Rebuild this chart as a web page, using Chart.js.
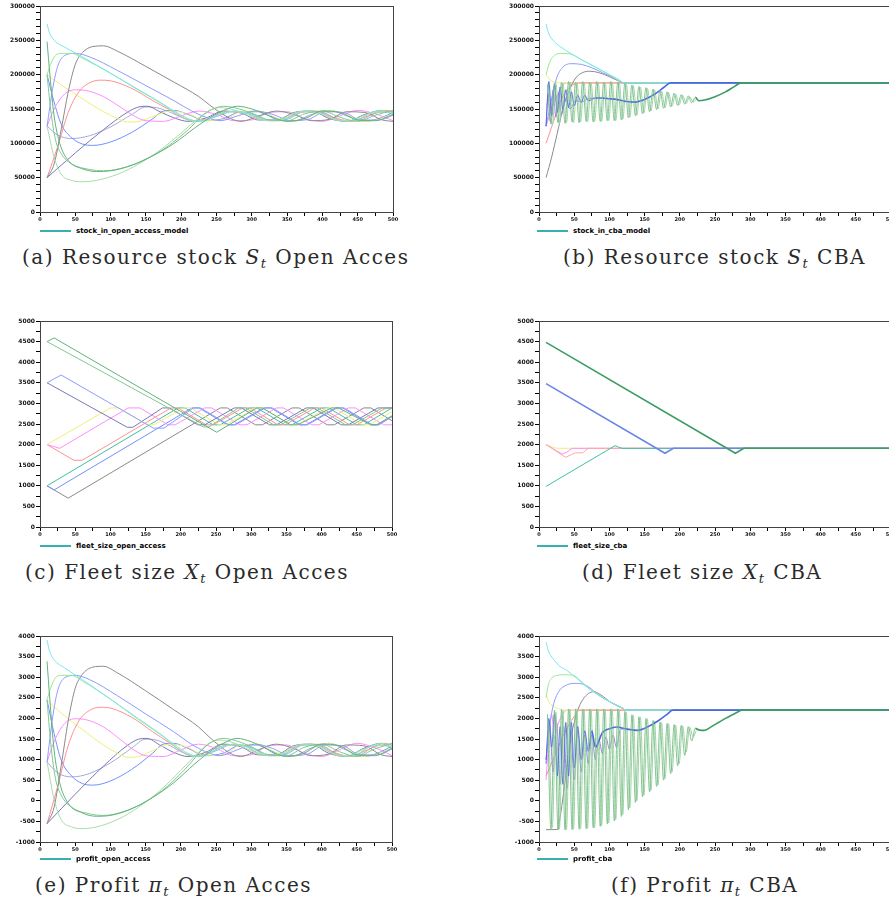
<!DOCTYPE html>
<html>
<head>
<title>Open access vs CBA simulations</title>
<script src="https://cdn.jsdelivr.net/npm/chart.js@4.4.0/dist/chart.umd.min.js"></script>
<style>
body { margin: 0; background: #fff; width: 889px; height: 901px; overflow: hidden; position: relative; }
canvas { position: absolute; }
.cap { position: absolute; font-family: "DejaVu Serif", serif; font-size: 20px; line-height: 22px; white-space: nowrap; color: #2a2a2a; letter-spacing: 1.5px; }
.cap sub { font-size: 13px; vertical-align: -4px; line-height: 0; }
.leg { position: absolute; height: 8px; font: bold 7px "DejaVu Sans", sans-serif; line-height: 8px; white-space: nowrap; color: #000; }
.leg .ln { display: inline-block; width: 31px; border-top: 2px solid #38b0b0; vertical-align: middle; margin-right: 5px; }
</style>
</head>
<body>
<canvas id="cA" width="400" height="226" style="left:0;top:0"></canvas>
<canvas id="cB" width="400" height="226" style="left:499px;top:0"></canvas>
<canvas id="cC" width="399" height="226" style="left:0;top:315px"></canvas>
<canvas id="cD" width="400" height="226" style="left:499px;top:315px"></canvas>
<canvas id="cE" width="399" height="226" style="left:0;top:630px"></canvas>
<canvas id="cF" width="400" height="226" style="left:499px;top:630px"></canvas>

<div class="leg" style="left:40px;top:227px"><span class="ln"></span>stock_in_open_access_model</div>
<div class="leg" style="left:537px;top:227px"><span class="ln"></span>stock_in_cba_model</div>
<div class="leg" style="left:40px;top:542px"><span class="ln"></span>fleet_size_open_access</div>
<div class="leg" style="left:537px;top:542px"><span class="ln"></span>fleet_size_cba</div>
<div class="leg" style="left:40px;top:855px"><span class="ln"></span>profit_open_access</div>
<div class="leg" style="left:537px;top:855px"><span class="ln"></span>profit_cba</div>

<div class="cap" style="left:22px;top:246px">(a) Resource stock <i>S<sub>t</sub></i> Open Acces</div>
<div class="cap" style="left:563px;top:246px">(b) Resource stock <i>S<sub>t</sub></i> CBA</div>
<div class="cap" style="left:25px;top:561px">(c) Fleet size <i>X<sub>t</sub></i> Open Acces</div>
<div class="cap" style="left:582px;top:561px">(d) Fleet size <i>X<sub>t</sub></i> CBA</div>
<div class="cap" style="left:35px;top:874px">(e) Profit <i>&pi;<sub>t</sub></i> Open Acces</div>
<div class="cap" style="left:611px;top:874px">(f) Profit <i>&pi;<sub>t</sub></i> CBA</div>

<script>
// tick labels
var xTickLabels = ['0', '50', '100', '150', '200', '250', '300', '350', '400', '450', '500'];
var stockTickLabels = ['0', '50000', '100000', '150000', '200000', '250000', '300000'];
var fleetTickLabels = ['0', '500', '1000', '1500', '2000', '2500', '3000', '3500', '4000', '4500', '5000'];
var profitTickLabels = ['-1000', '-500', '0', '500', '1000', '1500', '2000', '2500', '3000', '3500', '4000'];

var C = {
    cyan: '#78e6f0', lgreen: '#98e898', lblue: '#8c9cff', gray: '#8a8a8a', red: '#ff9090',
    magenta: '#ff8cff', yellow: '#eeee78', slate: '#7878b4', blue: '#7090ff', lav: '#a8a8d8',
    green1: '#80c890', green2: '#a8dca8', sea: '#62b27e', teal: '#3cc0a8', dblue: '#4a6ae0',
    purple: '#a080e0', lzig: '#9ed4a4', zig: '#78bc88', dgreen: '#3c9c64'
};

// (a) resource stock, open access -- values in thousands, [t, S]
var stockOA = [
    [[10,248],[14,200],[20,140],[28,100],[40,75],[60,63],[80,59],[100,60],[130,68],[160,82],[190,100],[220,123],[245,140],[265,150],[280,154],[300,150],[325,140],[350,132],[375,136],[400,147],[425,145],[450,134],[475,133],[500,142]],
    [[10,200],[15,150],[22,105],[30,85],[45,70],[70,62],[90,60],[120,65],[150,77],[180,95],[210,120],[230,140],[245,150],[260,154],[275,152],[300,144],[325,134],[350,133],[375,143],[400,147],[425,138],[450,132],[475,141],[500,148]],
    [[10,125],[20,80],[30,55],[45,46],[60,44],[80,46],[110,55],[140,70],[170,90],[200,115],[225,137],[240,148],[255,152],[270,150],[295,141],[320,133],[345,136],[370,146],[395,145],[420,134],[445,133],[470,144],[500,146]],
    [[10,274],[13,262],[20,250],[35,240],[60,226],[100,202],[140,178],[170,160],[190,147],[210,136],[225,132],[250,140],[275,147],[300,142],[325,133],[350,136],[375,147],[400,143],[425,133],[450,135],[475,146],[500,144]],
    [[10,200],[15,215],[22,228],[30,231],[45,231],[60,224],[100,202],[140,177],[175,156],[195,142],[215,133],[235,134],[260,145],[285,146],[310,136],[335,133],[360,144],[385,147],[410,138],[435,132],[460,141],[485,148],[500,143]],
    [[10,125],[18,180],[25,212],[35,228],[50,231],[70,226],[110,206],[150,184],[190,162],[215,147],[235,138],[255,133],[280,140],[305,147],[330,142],[355,133],[380,135],[405,146],[430,145],[455,134],[480,134],[500,141]],
    [[10,50],[20,70],[30,120],[40,175],[50,215],[60,232],[75,241],[90,242],[110,234],[150,212],[190,189],[225,168],[240,156],[255,145],[270,136],[285,132],[310,140],[335,147],[360,142],[385,133],[410,135],[435,146],[460,145],[485,134],[500,132]],
    [[10,50],[25,95],[40,145],[55,175],[70,188],[85,192],[100,191],[130,180],[160,162],[185,148],[200,139],[215,133],[240,136],[265,146],[290,145],[315,134],[340,133],[365,144],[390,147],[415,138],[440,132],[465,140],[490,148],[500,146]],
    [[10,125],[20,150],[35,172],[50,178],[65,177],[90,168],[115,152],[135,139],[150,133],[175,132],[200,140],[225,147],[250,142],[275,133],[300,134],[325,145],[350,146],[375,136],[400,132],[425,140],[450,148],[475,143],[500,133]],
    [[10,200],[30,185],[60,165],[90,146],[110,136],[125,131],[140,132],[160,139],[185,147],[210,143],[235,133],[260,134],[285,146],[310,147],[335,137],[360,132],[385,141],[410,148],[435,141],[460,132],[485,137],[500,143]],
    [[10,50],[50,86],[90,120],[125,146],[140,153],[152,154],[170,146],[190,137],[210,132],[235,137],[260,147],[285,144],[310,134],[335,134],[360,145],[385,147],[410,136],[435,132],[460,142],[485,148],[500,142]],
    [[10,200],[20,160],[30,128],[45,108],[60,99],[75,97],[100,102],[130,116],[160,136],[175,147],[190,148],[210,142],[235,133],[260,136],[285,146],[310,146],[335,135],[360,133],[385,142],[410,148],[435,140],[460,132],[485,138],[500,145]],
    [[10,125],[25,112],[45,107],[70,111],[100,124],[130,142],[150,153],[165,152],[185,145],[205,136],[225,132],[250,139],[275,147],[300,143],[325,133],[350,135],[375,146],[400,145],[425,134],[450,133],[475,144],[500,147]]
];
var stockOAColors = [C.sea, C.green1, C.green2, C.cyan, C.lgreen, C.lblue, C.gray, C.red, C.magenta, C.yellow, C.slate, C.blue, C.lav];

// (b) resource stock, CBA -- thousands
var stockCBA = [
    [[12,186],[17,128],[22,188],[27,130],[32,189],[37,129],[42,190],[47,131],[52,189],[57,130],[62,190],[67,132],[72,189],[77,131],[82,190],[87,132],[92,189],[97,133],[102,190],[107,133],[112,189],[117,134],[122,187],[127,137],[132,185],[137,140],[142,183],[147,143],[152,181],[157,146],[162,179],[167,149],[172,177],[177,151],[182,175],[187,153],[192,173],[197,155],[202,171],[207,157],[212,169],[217,159],[222,167],[227,162],[235,163],[250,168],[265,175],[278,183],[287,188],[500,188]],
    [[10,125],[14,190],[18,140],[22,185],[26,145],[30,182],[34,150],[38,178],[42,152],[46,175],[50,155],[55,170],[60,160],[65,170],[70,162],[80,166],[90,166],[100,165],[110,164],[125,161],[135,160],[150,164],[165,172],[178,182],[187,188],[500,188]],
    [[14,184],[19,127],[24,187],[29,129],[34,188],[39,130],[44,189],[49,130],[54,188],[59,131],[64,189],[69,131],[74,188],[79,132],[84,189],[89,132],[94,188],[99,133],[104,189],[109,133],[114,188],[119,135],[124,186],[129,138],[134,184],[139,141],[144,182],[149,144],[154,180],[159,147],[164,178],[169,150],[174,176],[179,152],[184,174],[189,154],[194,172],[199,156],[204,170],[209,158],[214,168],[219,160],[224,165]],
    [[10,125],[13,172],[16,132],[20,178],[24,138],[28,174],[32,142],[38,166],[44,150],[52,162],[60,160],[70,165],[80,166]],
    [[10,274],[13,262],[20,250],[30,241],[45,231],[60,222],[80,211],[100,200],[115,192],[120,188],[500,188]],
    [[10,200],[15,218],[22,228],[32,231],[45,230],[60,222],[80,211],[100,200],[118,189],[122,188],[500,188]],
    [[10,125],[18,165],[25,195],[33,210],[45,216],[60,215],[75,210],[90,203],[105,196],[120,188],[500,188]],
    [[10,50],[18,80],[26,115],[34,150],[42,175],[52,195],[62,203],[72,205],[85,203],[100,197],[115,190],[120,188],[500,188]],
    [[10,100],[20,130],[30,160],[40,178],[50,186],[60,188],[500,188]],
    [[10,200],[16,192],[24,189],[30,188],[500,188]],
    [[10,125],[18,150],[26,170],[34,185],[40,188],[500,188]]
];
var stockCBAColors = [C.zig, C.dblue, C.lzig, C.purple, C.cyan, C.lgreen, C.lblue, C.gray, C.red, C.yellow, C.magenta];

// (c) fleet size, open access
var fleetOA = [
    [[10,4500],[20,4590],[251,2300],[308,2890],[316,2890],[356,2480],[366,2480],[414,2890],[424,2890],[470,2480],[478,2480],[500,2700]],
    [[10,4500],[232,2430],[240,2430],[282,2890],[292,2890],[332,2480],[342,2480],[384,2890],[394,2890],[434,2480],[444,2480],[486,2890],[500,2890]],
    [[10,3500],[30,3690],[161,2400],[176,2400],[218,2890],[228,2890],[268,2480],[278,2480],[320,2890],[330,2890],[370,2480],[380,2480],[422,2890],[432,2890],[472,2480],[482,2480],[500,2680]],
    [[10,3500],[124,2420],[132,2420],[174,2890],[184,2890],[224,2480],[234,2480],[276,2890],[286,2890],[326,2480],[336,2480],[378,2890],[388,2890],[428,2480],[438,2480],[480,2890],[500,2890]],
    [[10,2000],[100,2890],[112,2890],[152,2480],[162,2480],[204,2890],[214,2890],[254,2480],[264,2480],[306,2890],[316,2890],[356,2480],[366,2480],[408,2890],[418,2890],[458,2480],[468,2480],[500,2800]],
    [[10,2000],[28,1910],[125,2890],[142,2890],[182,2480],[192,2480],[234,2890],[244,2890],[284,2480],[294,2480],[336,2890],[346,2890],[386,2480],[396,2480],[438,2890],[448,2890],[488,2480],[500,2480]],
    [[10,2000],[48,1620],[60,1620],[186,2890],[196,2890],[236,2480],[246,2480],[288,2890],[298,2890],[338,2480],[348,2480],[390,2890],[400,2890],[440,2480],[450,2480],[492,2890],[500,2890]],
    [[10,1000],[196,2890],[206,2890],[246,2480],[256,2480],[298,2890],[308,2890],[348,2480],[358,2480],[400,2890],[410,2890],[450,2480],[460,2480],[500,2890]],
    [[10,1000],[20,900],[216,2890],[226,2890],[266,2480],[276,2480],[318,2890],[328,2890],[368,2480],[378,2480],[420,2890],[430,2890],[470,2480],[480,2480],[500,2680]],
    [[10,1000],[40,700],[256,2890],[266,2890],[306,2480],[316,2480],[358,2890],[368,2890],[408,2480],[418,2480],[460,2890],[470,2890],[500,2580]]
];
var fleetOAColors = [C.sea, C.green1, C.lblue, C.slate, C.yellow, C.magenta, C.red, C.teal, C.blue, C.gray];

// (d) fleet size, CBA
var fleetCBA = [
    [[10,4480],[279,1790],[291,1910],[500,1910]],
    [[10,3480],[179,1790],[191,1910],[500,1910]],
    [[10,985],[108,1975],[113,1940],[118,1910],[500,1910]],
    [[10,2000],[38,1690],[46,1760],[52,1800],[62,1800],[70,1910],[500,1910]],
    [[10,2000],[25,1850],[33,1770],[40,1820],[47,1910],[500,1910]],
    [[10,2000],[20,1930],[26,1910],[500,1910]]
];
var fleetCBAColors = [C.dgreen, '#6a86e8', C.teal, '#ffa8a0', C.magenta, C.yellow];

// (e) profit, open access
var profitOA = [
    [[10,3385],[14,2450],[20,1235],[28,440],[40,-60],[60,-295],[80,-375],[100,-355],[130,-195],[160,80],[190,440],[220,900],[245,1235],[265,1435],[280,1515],[300,1435],[325,1235],[350,1075],[375,1155],[400,1375],[425,1335],[450,1115],[475,1095],[500,1275]],
    [[10,2450],[15,1435],[22,540],[30,140],[45,-155],[70,-315],[90,-355],[120,-255],[150,-20],[180,340],[210,840],[230,1235],[245,1435],[260,1515],[275,1475],[300,1315],[325,1115],[350,1095],[375,1295],[400,1375],[425,1195],[450,1075],[475,1255],[500,1395]],
    [[10,940],[20,40],[30,-455],[45,-635],[60,-675],[80,-635],[110,-455],[140,-155],[170,240],[200,740],[225,1175],[240,1395],[255,1475],[270,1435],[295,1255],[320,1095],[345,1155],[370,1355],[395,1335],[420,1115],[445,1095],[470,1315],[500,1355]],
    [[10,3900],[13,3665],[20,3425],[35,3225],[60,2945],[100,2470],[140,1990],[170,1635],[190,1375],[210,1155],[225,1075],[250,1235],[275,1375],[300,1275],[325,1095],[350,1155],[375,1375],[400,1295],[425,1095],[450,1135],[475,1355],[500,1315]],
    [[10,2450],[15,2730],[22,2985],[30,3045],[45,3045],[60,2910],[100,2470],[140,1970],[175,1555],[195,1275],[215,1095],[235,1115],[260,1335],[285,1355],[310,1155],[335,1095],[360,1315],[385,1375],[410,1195],[435,1075],[460,1255],[485,1395],[500,1295]],
    [[10,940],[18,2030],[25,2670],[35,2985],[50,3045],[70,2945],[110,2550],[150,2110],[190,1675],[215,1375],[235,1195],[255,1095],[280,1235],[305,1375],[330,1275],[355,1095],[380,1135],[405,1355],[430,1335],[455,1115],[480,1115],[500,1255]],
    [[10,-555],[20,-155],[30,840],[40,1935],[50,2730],[60,3065],[75,3245],[90,3265],[110,3105],[150,2670],[190,2210],[225,1795],[240,1555],[255,1335],[270,1155],[285,1075],[310,1235],[335,1375],[360,1275],[385,1095],[410,1135],[435,1355],[460,1335],[485,1115],[500,1075]],
    [[10,-555],[25,340],[40,1335],[55,1935],[70,2190],[85,2270],[100,2250],[130,2030],[160,1675],[185,1395],[200,1215],[215,1095],[240,1155],[265,1355],[290,1335],[315,1115],[340,1095],[365,1315],[390,1375],[415,1195],[440,1075],[465,1235],[490,1395],[500,1355]],
    [[10,940],[20,1435],[35,1875],[50,1990],[65,1970],[90,1795],[115,1475],[135,1215],[150,1095],[175,1075],[200,1235],[225,1375],[250,1275],[275,1095],[300,1115],[325,1335],[350,1355],[375,1155],[400,1075],[425,1235],[450,1395],[475,1295],[500,1095]],
    [[10,2450],[30,2130],[60,1735],[90,1355],[110,1155],[125,1055],[140,1075],[160,1215],[185,1375],[210,1295],[235,1095],[260,1115],[285,1355],[310,1375],[335,1175],[360,1075],[385,1255],[410,1395],[435,1255],[460,1075],[485,1175],[500,1295]],
    [[10,-555],[50,160],[90,840],[125,1355],[140,1495],[152,1515],[170,1355],[190,1175],[210,1075],[235,1175],[260,1375],[285,1315],[310,1115],[335,1115],[360,1335],[385,1375],[410,1155],[435,1075],[460,1275],[485,1395],[500,1275]],
    [[10,2450],[20,1635],[30,995],[45,600],[60,420],[75,380],[100,480],[130,760],[160,1155],[175,1375],[190,1395],[210,1275],[235,1095],[260,1155],[285,1355],[310,1355],[335,1135],[360,1095],[385,1275],[410,1395],[435,1235],[460,1075],[485,1195],[500,1335]],
    [[10,940],[25,680],[45,580],[70,660],[100,920],[130,1275],[150,1495],[165,1475],[185,1335],[205,1155],[225,1075],[250,1215],[275,1375],[300,1295],[325,1095],[350,1135],[375,1355],[400,1335],[425,1115],[450,1095],[475,1315],[500,1375]]
];
var profitOAColors = stockOAColors;

// (f) profit, CBA
var profitCBA = [
    [[12,2100],[17,-700],[22,2200],[27,-700],[32,2220],[37,-710],[42,2230],[47,-700],[52,2230],[57,-690],[62,2230],[67,-680],[72,2230],[77,-660],[82,2230],[87,-620],[92,2230],[97,-560],[102,2230],[107,-490],[112,2230],[117,-380],[122,2170],[127,-220],[132,2090],[137,-40],[142,2040],[147,100],[152,2000],[157,220],[162,1950],[167,350],[172,1910],[177,500],[182,1880],[187,660],[192,1850],[197,850],[202,1830],[207,1100],[212,1800],[217,1450],[222,1760],[228,1715],[235,1710],[245,1800],[255,1900],[265,2000],[275,2090],[283,2160],[288,2200],[500,2200]],
    [[10,900],[14,2000],[18,1300],[22,2100],[26,600],[30,1800],[34,400],[38,1900],[42,600],[46,1900],[50,800],[55,1800],[60,1000],[65,1700],[70,1200],[75,1700],[80,1300],[90,1650],[100,1750],[110,1790],[125,1740],[140,1710],[155,1800],[170,1950],[182,2100],[190,2200],[500,2200]],
    [[14,1900],[19,-650],[24,2150],[29,-690],[34,2200],[39,-700],[44,2220],[49,-690],[54,2220],[59,-680],[64,2220],[69,-670],[74,2220],[79,-650],[84,2220],[89,-600],[94,2220],[99,-540],[104,2220],[109,-460],[114,2210],[119,-340],[124,2150],[129,-170],[134,2070],[139,0],[144,2030],[149,130],[154,1990],[159,250],[164,1940],[169,380],[174,1900],[179,540],[184,1870],[189,700],[194,1840],[199,900],[204,1820],[209,1180],[214,1790],[219,1550],[224,1740]],
    [[10,1000],[15,1900],[20,700],[25,1900],[30,400],[35,1800],[40,300],[45,1700],[50,500],[55,1700],[60,700],[65,1600],[70,900],[75,1600],[80,1000],[85,1500],[90,1150],[95,1550],[100,1250],[105,1600],[110,1300],[115,1700],[120,1750]],
    [[10,3850],[13,3650],[20,3450],[30,3260],[40,3160],[55,2950],[68,2760],[85,2560],[101,2400],[112,2290],[120,2235],[123,2200],[500,2200]],
    [[10,2500],[13,2800],[18,2980],[25,3040],[35,3060],[48,3050],[60,2900],[70,2745],[85,2560],[101,2400],[120,2235],[123,2200],[500,2200]],
    [[10,1000],[15,1800],[20,2300],[28,2650],[38,2800],[50,2850],[60,2840],[70,2770],[85,2560],[101,2400],[120,2235],[123,2200],[500,2200]],
    [[10,-700],[18,-700],[27,-690],[30,-400],[35,200],[40,900],[45,1500],[50,1900],[55,2200],[62,2450],[70,2600],[78,2650],[85,2600],[95,2480],[101,2400],[120,2235],[123,2200],[500,2200]],
    [[10,600],[20,1000],[35,1600],[50,2050],[58,2200],[500,2200]],
    [[10,2600],[14,2400],[20,2300],[28,2240],[35,2200],[500,2200]],
    [[10,500],[14,1500],[18,2100],[22,1500],[26,1800],[32,2050],[40,2200],[500,2200]]
];
var profitCBAColors = stockCBAColors;

var framePlugin = {
    id: 'frame',
    afterDraw: function(chart) {
        var a = chart.chartArea, ctx = chart.ctx;
        ctx.save();
        ctx.strokeStyle = '#444';
        ctx.lineWidth = 1;
        ctx.strokeRect(Math.round(a.left) + 0.5, Math.round(a.top) + 0.5, Math.round(a.right - a.left), Math.round(a.bottom - a.top));
        ctx.restore();
    }
};

// darker, thicker tail once the zigzag / early wobble has settled (CBA panels)
function tailStyle(base, from, dark) {
    return {
        borderColor: function(c) { return c.p0.parsed.x >= from ? dark : base; },
        borderWidth: function(c) { return c.p0.parsed.x >= from ? 1.6 : 0.9; }
    };
}

function makeChart(id, series, colors, yMin, yMax, yStep, labelStep, labels, smooth, thick, padRight, tails) {
    var datasets = [];
    for (var i = 0; i < series.length; i++) {
        var ds = {
            data: series[i],
            borderColor: colors[i],
            borderWidth: i < thick ? 1.6 : 1,
            pointRadius: 0,
            fill: false,
            tension: smooth ? 0.4 : 0,
            cubicInterpolationMode: smooth ? 'monotone' : 'default'
        };
        if (tails && tails[i]) ds.segment = tailStyle(colors[i], tails[i][0], tails[i][1]);
        datasets.push(ds);
    }
    return new Chart(document.getElementById(id), {
        type: 'line',
        data: { datasets: datasets },
        plugins: [framePlugin],
        options: {
            responsive: false,
            animation: false,
            devicePixelRatio: 1,
            layout: { padding: { left: 0, right: padRight, top: 6, bottom: 0 } },
            plugins: { legend: { display: false }, tooltip: { enabled: false } },
            scales: {
                x: {
                    type: 'linear', min: 0, max: 500,
                    afterFit: function(s) { s.height = 14; s.paddingLeft = 0; s.paddingRight = 0; },
                    ticks: {
                        stepSize: 25, autoSkip: false, maxRotation: 0, padding: 1, color: '#111',
                        font: { size: 5, weight: 'bold', family: 'DejaVu Sans' },
                        callback: function(v) { return Math.round(v) % 50 === 0 ? xTickLabels[Math.round(v) / 50] : ''; }
                    },
                    grid: { drawOnChartArea: false, tickLength: 4, color: '#000' },
                    border: { color: '#000', width: 1 }
                },
                y: {
                    type: 'linear', min: yMin, max: yMax,
                    afterFit: function(s) { s.width = 40; s.paddingTop = 0; s.paddingBottom = 0; },
                    ticks: {
                        stepSize: yStep, autoSkip: false, padding: 1, color: '#111',
                        font: { size: 6, weight: 'bold', family: 'DejaVu Sans' },
                        callback: function(v) {
                            var k = Math.round(v - yMin);
                            return k % labelStep === 0 ? labels[k / labelStep] : '';
                        }
                    },
                    grid: { drawOnChartArea: false, tickLength: 4, color: '#000' },
                    border: { color: '#000', width: 1 }
                }
            }
        }
    });
}

var cbaTails = [[222, C.dgreen], [75, C.dblue], null, null];

makeChart('cA', stockOA, stockOAColors, 0, 300, 10, 50, stockTickLabels, true, 0, 7);
makeChart('cB', stockCBA, stockCBAColors, 0, 300, 10, 50, stockTickLabels, true, 0, 8, cbaTails);
makeChart('cC', fleetOA, fleetOAColors, 0, 5000, 250, 500, fleetTickLabels, false, 0, 7);
makeChart('cD', fleetCBA, fleetCBAColors, 0, 5000, 250, 500, fleetTickLabels, false, 2, 8);
makeChart('cE', profitOA, profitOAColors, -1000, 4000, 250, 500, profitTickLabels, true, 0, 7);
makeChart('cF', profitCBA, profitCBAColors, -1000, 4000, 250, 500, profitTickLabels, true, 0, 8, cbaTails);
</script>
</body>
</html>
